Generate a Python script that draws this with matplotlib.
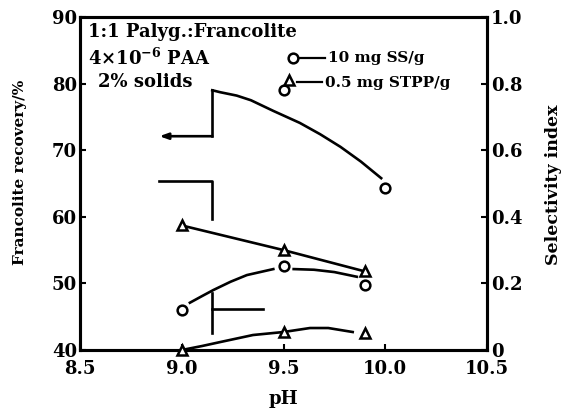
import matplotlib
matplotlib.use("Agg")
import matplotlib.pyplot as plt

# ---- data ----
ph_pts = [9.0, 9.5, 9.9]

# left axis: recovery (%)
circ_rec_x = [9.5, 10.0]
circ_rec_y = [79.1, 64.3]
circ_rec_curve_x = [9.15, 9.19, 9.27, 9.34, 9.45, 9.58, 9.68, 9.78, 9.88, 9.98]
circ_rec_curve_y = [79.0, 78.7, 78.2, 77.5, 75.9, 74.1, 72.4, 70.5, 68.3, 65.8]

tri_rec_y = [58.7, 55.0, 51.8]

# right axis: selectivity index
circ_sel_y = [0.12, 0.252, 0.195]
circ_sel_curve1_x = [9.04, 9.1, 9.155, 9.24, 9.32, 9.45]
circ_sel_curve1_y = [0.142, 0.162, 0.18, 0.205, 0.225, 0.243]
circ_sel_curve2_x = [9.55, 9.65, 9.75, 9.86]
circ_sel_curve2_y = [0.243, 0.241, 0.234, 0.22]

tri_sel_y = [0.0, 0.054, 0.051]
tri_sel_curve_x = [9.0, 9.1, 9.19, 9.35, 9.5, 9.63, 9.72, 9.84]
tri_sel_curve_y = [0.0, 0.012, 0.024, 0.045, 0.054, 0.066, 0.066, 0.054]

x_ticks = [8.5, 9.0, 9.5, 10.0, 10.5]
x_ticklabels = ["8.5", "9.0", "9.5", "10.0", "10.5"]
left_ticks = [40, 50, 60, 70, 80, 90]
right_ticks = [0, 0.2, 0.4, 0.6, 0.8, 1.0]
right_ticklabels = ["0", "0.2", "0.4", "0.6", "0.8", "1.0"]

# arrows / brackets (left-axis data coords)
arrow_up_x = [9.15, 9.15, 8.89]
arrow_up_y = [79.0, 72.1, 72.1]
bracket_mid_x = [8.89, 9.15, 9.15]
bracket_mid_y = [65.4, 65.4, 59.6]
bracket_low_vx = [9.15, 9.15]
bracket_low_vy = [48.5, 42.5]
bracket_low_hx = [9.15, 9.40]
bracket_low_hy = [46.1, 46.1]

plt.rcParams["font.family"] = ["DejaVu Serif"]
plt.rcParams["font.weight"] = "bold"
plt.rcParams["mathtext.fontset"] = "dejavuserif"
plt.rcParams["mathtext.default"] = "bf"

fig = plt.figure(figsize=(5.66, 4.08), dpi=100)
ax = fig.add_axes([80/566, (408-350)/408, 407/566, 333/408])
ax2 = ax.twinx()

LW = 1.9
MS = 7
mk = dict(markerfacecolor="white", markeredgecolor="black", markeredgewidth=1.8,
          markersize=MS, linestyle="none", zorder=5)

# left-axis series
ax.plot(circ_rec_curve_x, circ_rec_curve_y, color="black", lw=LW)
ax.plot(circ_rec_x, circ_rec_y, marker="o", **mk)
ax.plot(ph_pts, tri_rec_y, color="black", lw=LW)
ax.plot(ph_pts, tri_rec_y, marker="^", **mk)

# arrows / brackets
ax.plot(arrow_up_x[:2], arrow_up_y[:2], color="black", lw=LW)
ax.annotate("", xy=(arrow_up_x[2], arrow_up_y[2]), xytext=(arrow_up_x[1], arrow_up_y[1]),
            arrowprops=dict(arrowstyle="-|>,head_length=0.5,head_width=0.18",
                            color="black", lw=LW, shrinkA=0, shrinkB=0))
ax.plot(bracket_mid_x, bracket_mid_y, color="black", lw=LW)
ax.plot(bracket_low_vx, bracket_low_vy, color="black", lw=LW)
ax.plot(bracket_low_hx, bracket_low_hy, color="black", lw=LW)

# right-axis series
ax2.plot(circ_sel_curve1_x, circ_sel_curve1_y, color="black", lw=LW)
ax2.plot(circ_sel_curve2_x, circ_sel_curve2_y, color="black", lw=LW)
ax2.plot(ph_pts, circ_sel_y, marker="o", **mk)
ax2.plot(tri_sel_curve_x, tri_sel_curve_y, color="black", lw=LW)
ax2.plot(ph_pts, tri_sel_y, marker="^", clip_on=False, **mk)

ax.set_xlim(8.5, 10.5)
ax.set_ylim(40, 90)
ax2.set_ylim(0, 1.0)

FS = 13
TFS = 13
ax.set_xticks(x_ticks)
ax.set_xticklabels(x_ticklabels, fontsize=TFS, fontweight="bold")
ax.set_yticks(left_ticks)
ax.set_yticklabels([str(v) for v in left_ticks], fontsize=TFS, fontweight="bold")
ax2.set_yticks(right_ticks)
ax2.set_yticklabels(right_ticklabels, fontsize=TFS, fontweight="bold")

ax.tick_params(axis="y", direction="in", length=4, width=1.5, pad=2)
ax.tick_params(axis="x", direction="in", length=4, width=1.5, pad=7)
ax2.tick_params(axis="y", direction="in", length=4, width=1.5, pad=3)

for a in (ax, ax2):
    for s in a.spines.values():
        s.set_linewidth(2.2)

ax.set_xlabel("pH", fontsize=FS, fontweight="bold")
ax.xaxis.set_label_coords(0.5, (350 - 399) / 333)
ax.xaxis.label.set_va("center")
ax.set_ylabel("Francolite recovery/%", fontsize=11, fontweight="bold")
ax.yaxis.set_label_coords((20 - 80) / 407, (350 - 172) / 333)
ax.yaxis.label.set_va("center")
ax2.set_ylabel("Selectivity index", fontsize=12.5, fontweight="bold")
ax2.yaxis.set_label_coords((554 - 80) / 407, (350 - 185) / 333)
ax2.yaxis.label.set_va("center")

# text block
ax.text(0.02, 0.955, "1:1 Palyg.:Francolite", transform=ax.transAxes,
        fontsize=FS, fontweight="bold", va="center", ha="left")
ax.text(0.02, 0.877, r"4×10$^{-6}$ PAA", transform=ax.transAxes,
        fontsize=FS, fontweight="bold", va="center", ha="left")
ax.text(0.045, 0.805, "2% solids", transform=ax.transAxes,
        fontsize=FS, fontweight="bold", va="center", ha="left")

# legend (manual)
ax.plot([0.523], [0.877], transform=ax.transAxes, marker="o", **mk)
ax.plot([0.541, 0.602], [0.877, 0.877], transform=ax.transAxes, color="black", lw=1.6)
ax.text(0.609, 0.877, "10 mg SS/g", transform=ax.transAxes,
        fontsize=11, fontweight="bold", va="center", ha="left")
ax.plot([0.514], [0.811], transform=ax.transAxes, marker="^", **mk)
ax.plot([0.533, 0.595], [0.805, 0.805], transform=ax.transAxes, color="black", lw=1.6)
ax.text(0.602, 0.803, "0.5 mg STPP/g", transform=ax.transAxes,
        fontsize=11, fontweight="bold", va="center", ha="left")

fig.savefig("out.png", dpi=100)
